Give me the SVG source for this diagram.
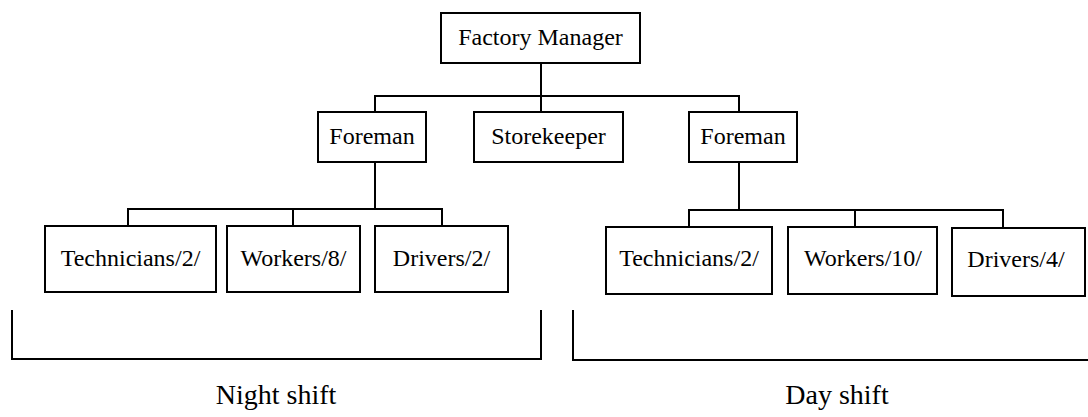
<svg xmlns="http://www.w3.org/2000/svg" width="1088" height="417" viewBox="0 0 1088 417">
  <style>
    .box { fill: #ffffff; stroke: #000000; stroke-width: 2; }
    .lbl { font-family: "Liberation Serif", "Times New Roman", serif; font-size: 24px; fill: #000000; text-anchor: middle; }
    .shift { font-family: "Liberation Serif", "Times New Roman", serif; font-size: 28px; fill: #000000; text-anchor: middle; }
    .wire { fill: none; stroke: #000000; stroke-width: 2; }
  </style>
  <rect width="1088" height="417" fill="#ffffff"/>

  <!-- connectors -->
  <g id="connectors">
    <path class="wire" d="M541 63 V112"/>
    <path class="wire" d="M375 112 V96 H739 V112"/>
    <path class="wire" d="M375 162 V209"/>
    <path class="wire" d="M128 226 V209 H442 V226"/>
    <path class="wire" d="M293 209 V226"/>
    <path class="wire" d="M739 162 V210"/>
    <path class="wire" d="M689 227 V210 H1003 V228"/>
    <path class="wire" d="M855 210 V227"/>
    <!-- shift brackets -->
    <path class="wire" d="M12 310 V359 H541 V310"/>
    <path class="wire" d="M573 310 V360 H1090"/>
  </g>

  <g id="factory-manager">
    <rect class="box" x="441" y="13" width="199" height="50"/>
    <text class="lbl" x="540.5" y="45">Factory Manager</text>
  </g>
  <g id="foreman-night">
    <rect class="box" x="318" y="112" width="108" height="50"/>
    <text class="lbl" x="372" y="144">Foreman</text>
  </g>
  <g id="storekeeper">
    <rect class="box" x="474" y="112" width="149" height="50"/>
    <text class="lbl" x="548.5" y="144">Storekeeper</text>
  </g>
  <g id="foreman-day">
    <rect class="box" x="689" y="112" width="108" height="50"/>
    <text class="lbl" x="743" y="144">Foreman</text>
  </g>

  <g id="technicians-night">
    <rect class="box" x="45" y="226" width="171" height="66"/>
    <text class="lbl" x="130.5" y="266">Technicians/2/</text>
  </g>
  <g id="workers-night">
    <rect class="box" x="227" y="226" width="133" height="66"/>
    <text class="lbl" x="293.5" y="266">Workers/8/</text>
  </g>
  <g id="drivers-night">
    <rect class="box" x="375" y="226" width="133" height="66"/>
    <text class="lbl" x="441.5" y="266">Drivers/2/</text>
  </g>

  <g id="technicians-day">
    <rect class="box" x="606" y="227" width="166" height="67"/>
    <text class="lbl" x="689" y="266">Technicians/2/</text>
  </g>
  <g id="workers-day">
    <rect class="box" x="788" y="227" width="149" height="67"/>
    <text class="lbl" x="863" y="266">Workers/10/</text>
  </g>
  <g id="drivers-day">
    <rect class="box" x="952" y="228" width="133" height="68"/>
    <text class="lbl" x="1016" y="267">Drivers/4/</text>
  </g>

  <g id="night-shift">
    <text class="shift" x="276" y="404">Night shift</text>
  </g>
  <g id="day-shift">
    <text class="shift" x="837" y="404">Day shift</text>
  </g>
</svg>
